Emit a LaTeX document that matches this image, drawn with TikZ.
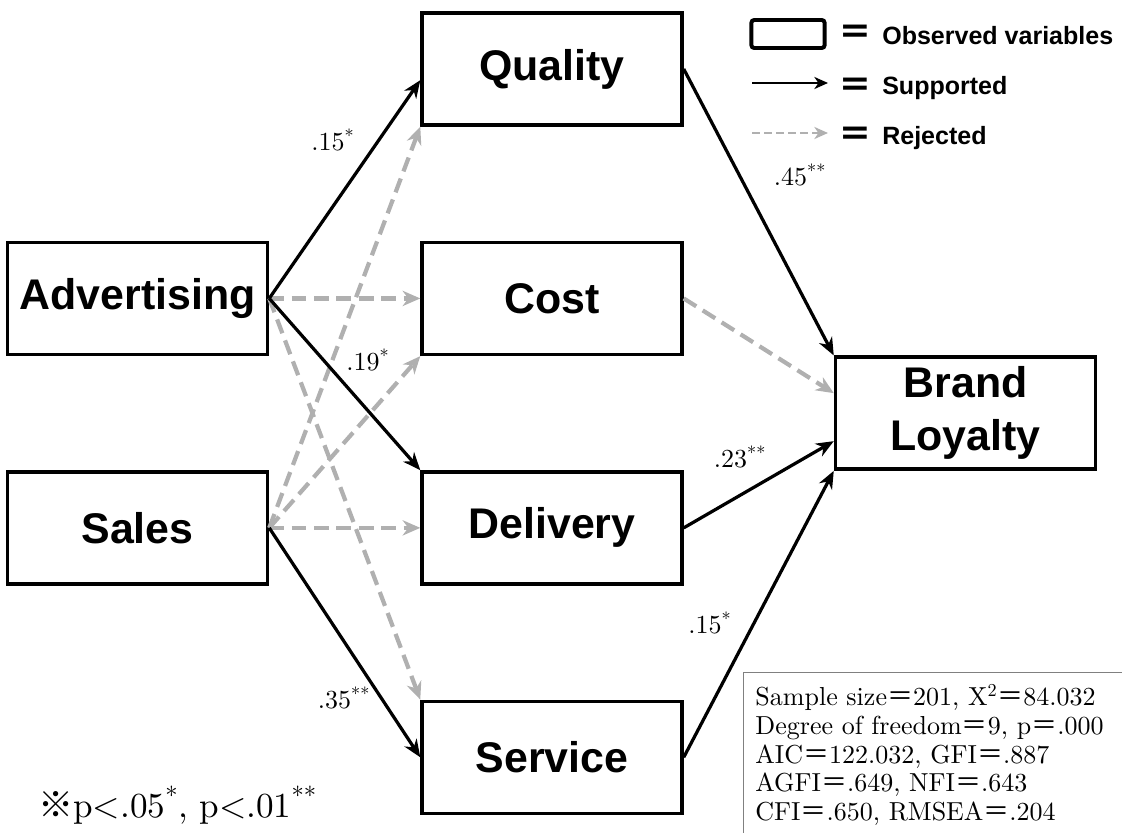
\documentclass[tikz,border=0pt]{standalone}
\usepackage{fontspec}
\usepackage{xcolor}
\usepackage{tikz}
\usetikzlibrary{positioning, calc, arrows.meta}

\setmainfont{lmroman10-regular.otf}
\newfontfamily\boxfont{Liberation Sans}
\newfontfamily\cjk{Noto Sans CJK JP}
\definecolor{rejgray}{RGB}{176,176,176}
\newcommand{\feq}{{\cjk ＝}}

\begin{document}
\begin{tikzpicture}[x=0.025cm, y=-0.025cm, node distance = 2.85cm]

  \tikzstyle{obsvar}=[draw, line width=2.4pt, minimum width=6.5cm, minimum height=2.8cm, inner sep=0pt, align=center, font=\boxfont\bfseries\fontsize{30.5}{37.5}\selectfont]
  \tikzstyle{supported}=[line width=2.3pt, -{Stealth[length=0.44cm, width=0.36cm, inset=0.14cm]}]
  \tikzstyle{rejected}=[rejgray, line width=3pt, dash pattern=on 0.37cm off 0.19cm, -{Stealth[length=0.44cm, width=0.38cm, inset=0.14cm]}]
  \tikzstyle{coef}=[inner sep=1pt, font=\fontsize{18.5}{20}\selectfont]
  \tikzstyle{keytext}=[anchor=base west, inner sep=0pt, font=\boxfont\bfseries\fontsize{17.8}{20}\selectfont]

  \useasboundingbox (0,0) rectangle (1122,833);
  \clip (0,0) rectangle (1122,833);

  % mediators
  \node [obsvar] (quality) at (552,69) {Quality};
  \node [obsvar, below = of quality] (cost) {Cost};
  \node [obsvar, below = of cost] (delivery) {Delivery};
  \node [obsvar, below = of delivery] (service) {Service};

  % causes and outcome
  \node [obsvar, left = 3.775cm of cost] (advertising) {Advertising};
  \node [obsvar, below = of advertising] (sales) {Sales};
  \coordinate (mid) at ($(cost.east)!0.5!(delivery.east)$);
  \node [obsvar, right = 3.75cm of mid] (loyalty) {Brand\\Loyalty};

  % rejected paths
  \draw [rejected] (sales.east) -- (quality.south west);
  \draw [rejected] (sales.east) -- (cost.south west);
  \draw [rejected] (sales.east) -- (delivery.west);
  \draw [rejected] (advertising.east) -- (cost.west);
  \draw [rejected] (advertising.east) -- (service.north west);
  \draw [rejected] (cost.east) -- ([yshift=0.5cm]loyalty.west);

  % supported paths
  \draw [supported] (advertising.east) -- ([yshift=-0.28cm]quality.west);
  \draw [supported] (advertising.east) -- (delivery.north west);
  \draw [supported] (sales.east) -- (service.west);
  \draw [supported] (quality.east) -- (loyalty.north west);
  \draw [supported] (delivery.east) -- ([yshift=-0.7cm]loyalty.west);
  \draw [supported] (service.east) -- (loyalty.south west);

  \node [coef] (coef-aq) at (333,140) {.15\textsuperscript{*}};
  \node [coef] (coef-ad) at (368,360) {.19\textsuperscript{*}};
  \node [coef] (coef-ss) at (344,698) {.35\textsuperscript{**}};
  \node [coef] (coef-ql) at (800,175) {.45\textsuperscript{**}};
  \node [coef] (coef-dl) at (740,457) {.23\textsuperscript{**}};
  \node [coef] (coef-sl) at (710,623) {.15\textsuperscript{*}};

  % key
  \node [draw, line width=2.8pt, rounded corners=2pt, minimum width=1.83cm, minimum height=0.7cm, inner sep=0pt] (key-box) at (788,34) {};
  \coordinate (key-sup-a) at (752,83);
  \coordinate (key-sup-b) at (828,83);
  \coordinate (key-rej-a) at (752,133);
  \coordinate (key-rej-b) at (828,133);
  \draw [line width=1.7pt, -{Stealth[length=0.34cm, width=0.3cm, inset=0.1cm]}] (key-sup-a) -- (key-sup-b);
  \draw [rejgray, line width=1.7pt, dash pattern=on 0.2cm off 0.1cm, -{Stealth[length=0.34cm, width=0.3cm, inset=0.1cm]}] (key-rej-a) -- (key-rej-b);
  \foreach \y/\n in {35/obs, 88/sup, 137/rej}
    \node [inner sep=0pt, font=\cjk\bfseries\fontsize{24}{24}\selectfont] (key-eq-\n) at (855,\y) {＝};
  \node [keytext] (key-obs) at (882,45) {Observed variables};
  \node [keytext] (key-sup) at (882,95) {Supported};
  \node [keytext] (key-rej) at (882,145) {Rejected};

  % fit indices
  \node [draw=gray, line width=0.6pt, anchor=north west, inner sep=0.3cm, text width=9.5cm, align=left, font=\fontsize{18.5}{20.5}\selectfont] (fit) at (743,672)
    {Sample size\feq 201, X\textsuperscript{2}\feq 84.032\\
     Degree of freedom\feq 9, p\feq .000\\
     AIC\feq 122.032, GFI\feq .887\\
     AGFI\feq .649, NFI\feq .643\\
     CFI\feq .650, RMSEA\feq .204};

  \node [anchor=west, inner sep=0pt, font=\fontsize{25}{27}\selectfont] (note) at (38,805) {{\cjk ※}p<.05\textsuperscript{*}, p<.01\textsuperscript{**}};
\end{tikzpicture}
\end{document}
